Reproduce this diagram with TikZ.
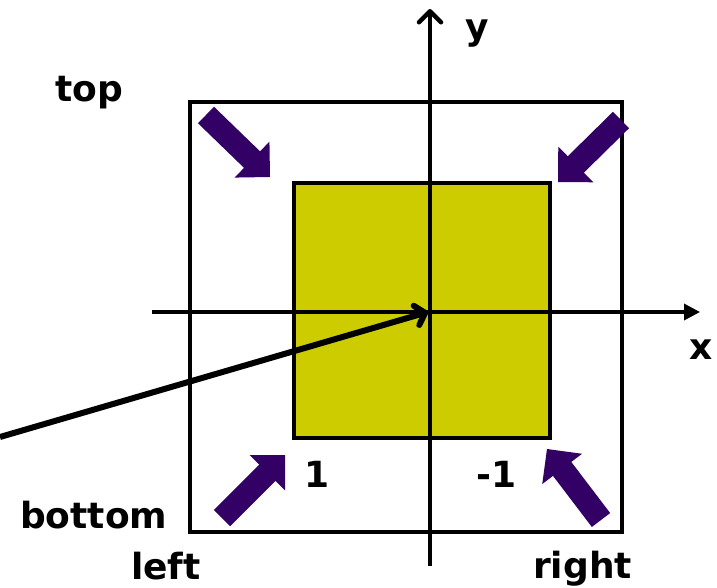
\documentclass[tikz,border=0pt]{standalone}
\usepackage{fontspec}
\setmainfont{DejaVu Sans}
\usetikzlibrary{arrows.meta,calc}
\definecolor{purp}{RGB}{51,0,102}
\definecolor{olive}{RGB}{204,204,0}
\tikzset{
  lbl/.style={inner sep=0pt, anchor=base west, font=\fontsize{36}{42}\selectfont\bfseries},
  frame/.style={draw=black, line width=4.5pt},
  innerbox/.style={draw=black, fill=olive, line width=3.5pt},
  axis/.style={line width=4.5pt},
}
\newcommand{\fatarr}[2]{%
  \coordinate (M) at ($(#2)!25pt!(#1)$);
  \fill[purp] ($(#1)!11.5pt!90:(#2)$) -- ($(M)!11.5pt!90:(#2)$) -- ($(M)!25pt!90:(#2)$)
    -- (#2) -- ($(M)!25pt!-90:(#2)$) -- ($(M)!11.5pt!-90:(#2)$) -- ($(#1)!11.5pt!-90:(#2)$) -- cycle;
}
\begin{document}
\begin{tikzpicture}[x=1pt,y=-1pt]
\useasboundingbox (0,0) rectangle (717,587);
\fill[white] (0,0) rectangle (717,587);
% outer frame and inner square
\draw[frame] (190,102) rectangle (622,532);
\draw[innerbox] (294,183) rectangle (550,438);
% axes
\coordinate (ybot) at (430,566);
\coordinate (ytop) at (430,9);
\coordinate (xl) at (152,312);
\coordinate (xr) at (700,312);
\coordinate (o) at (428,312);
\coordinate (far) at (0,437);
\draw[axis, -{Straight Barb[length=11pt,width=22pt,round]}] (ybot) -- (ytop);
\draw[line width=3.5pt, -{Triangle[length=16pt,width=16pt]}] (xl) -- (xr);
\draw[line width=6pt, -{Straight Barb[length=9pt,width=20pt,round]}] (far) -- (o);
% purple arrows
\coordinate (t1) at (206,115); \coordinate (h1) at (270,177);
\coordinate (t2) at (621,120); \coordinate (h2) at (558,182);
\coordinate (t3) at (222,518); \coordinate (h3) at (285,455);
\coordinate (t4) at (601,520); \coordinate (h4) at (547,449);
\fatarr{t1}{h1}
\fatarr{t2}{h2}
\fatarr{t3}{h3}
\fatarr{t4}{h4}
% labels
\node[lbl] (ltop) at (55,101) {top};
\node[lbl] (lbottom) at (20,528) {bottom};
\node[lbl] (lleft) at (131,579) {left};
\node[lbl] (lright) at (533,578) {right};
\node[lbl] (ly) at (465,39) {y};
\node[lbl] (lx) at (689,359) {x};
\node[lbl] (lone) at (304,487) {1};
\node[lbl] (lmone) at (476,487) {-1};
\end{tikzpicture}
\end{document}
